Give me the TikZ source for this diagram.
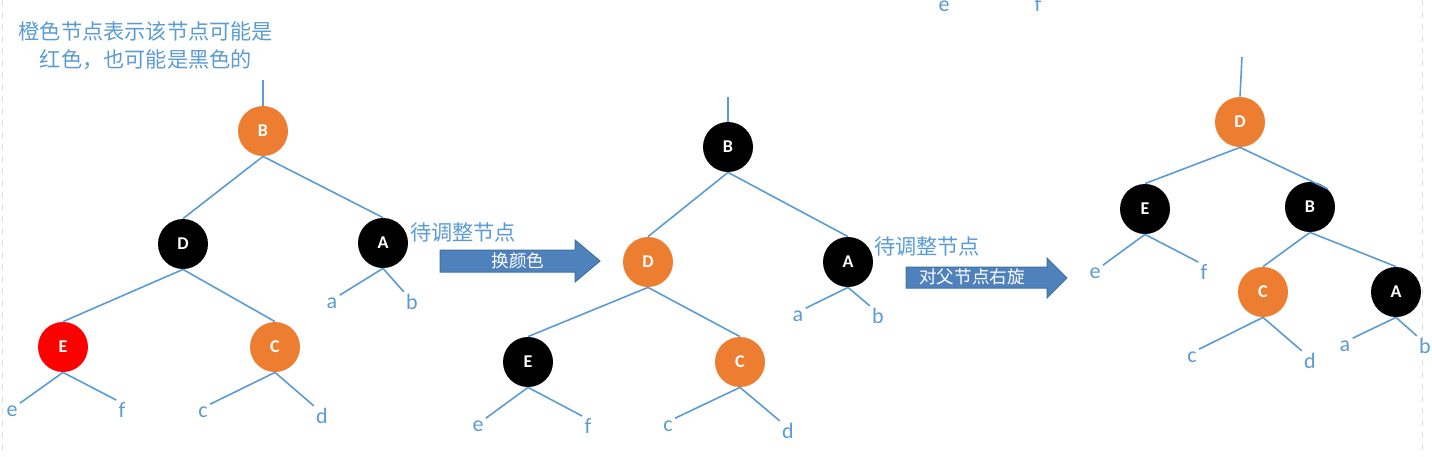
\documentclass[tikz,border=0pt]{standalone}
\usepackage{fontspec}
\setmainfont{Carlito}
\newfontfamily\cjk{Noto Sans CJK SC}
\definecolor{linkblue}{HTML}{5B9BD5}
\definecolor{nodeorange}{HTML}{ED7D31}
\definecolor{arrowfill}{HTML}{4F81BD}
\definecolor{arrowline}{HTML}{41719C}
\tikzset{
  rbnode/.style={circle,minimum size=25pt,inner sep=0pt,text=white,
    font=\bfseries\fontsize{9}{10}\selectfont},
  blacknode/.style={rbnode,fill=black},
  orangenode/.style={rbnode,fill=nodeorange},
  rednode/.style={rbnode,fill=red},
  link/.style={draw=linkblue,line width=0.8pt},
  leaf/.style={text=linkblue,inner sep=1pt,font=\fontsize{11}{13}\selectfont},
  note/.style={text=linkblue,align=center,inner sep=0pt,font=\cjk\fontsize{10.6}{14}\selectfont},
  bigarrow/.style={fill=arrowfill,draw=arrowline,line width=0.5pt},
  arrowtext/.style={text=white,inner sep=0pt,font=\cjk\fontsize{8.8}{10}\selectfont}
}
\begin{document}
\begin{tikzpicture}[x=0.5pt,y=-0.5pt]
  \useasboundingbox (0,0) rectangle (1432,456);
  %% Frame
  \draw[gray!25,dashed] (2,0) -- (2,456);
  \draw[gray!25,dashed] (1422,0) -- (1422,456);
  %% Note
  \node[note] (hint) at (146,46) {橙色节点表示该节点可能是\\红色，也可能是黑色的};
  %% Tree 1
  \coordinate (top1) at (263,80);
  \node[orangenode] (b1) at (263,131) {B};
  \node[blacknode] (d1) at (183,244) {D};
  \node[blacknode] (a1) at (383,243) {A};
  \node[rednode] (e1) at (63,347) {E};
  \node[orangenode] (c1) at (275,347) {C};
  \node[leaf] (la1) at (332,303) {a};
  \node[leaf] (lb1) at (412,302) {b};
  \node[leaf] (le1) at (12,411) {e};
  \node[leaf] (lf1) at (122,410) {f};
  \node[leaf] (lc1) at (203,412) {c};
  \node[leaf] (ld1) at (322,416) {d};
  \draw[link] (top1) -- (b1.north);
  \draw[link] (b1.south) -- (d1.north);
  \draw[link] (b1.south) -- (a1.north);
  \draw[link] (d1.south) -- (e1.north);
  \draw[link] (d1.south) -- (c1.north);
  \draw[link] (a1.south) -- (la1.north east);
  \draw[link] (a1.south) -- (lb1.north west);
  \draw[link] (e1.south) -- (le1.north east);
  \draw[link] (e1.south) -- (lf1.north west);
  \draw[link] (c1.south) -- (lc1.north east);
  \draw[link] (c1.south) -- (ld1.north west);
  \node[note] (todo1) at (463,232) {待调整节点};
  %% Arrow 1
  \draw[bigarrow] (440,250) -- (575,250) -- (575,240) -- (600,261)
    -- (575,282) -- (575,272) -- (440,272) -- cycle;
  \node[arrowtext] (recolor) at (518,261) {换颜色};
  %% Tree 2
  \coordinate (top2) at (728,97);
  \node[blacknode] (b2) at (728,147) {B};
  \node[orangenode] (d2) at (648,262) {D};
  \node[blacknode] (a2) at (848,262) {A};
  \node[blacknode] (e2) at (528,362) {E};
  \node[orangenode] (c2) at (740,362) {C};
  \node[leaf] (la2) at (798,316) {a};
  \node[leaf] (lb2) at (878,316) {b};
  \node[leaf] (le2) at (478,426) {e};
  \node[leaf] (lf2) at (588,426) {f};
  \node[leaf] (lc2) at (668,426) {c};
  \node[leaf] (ld2) at (788,431) {d};
  \draw[link] (top2) -- (b2.north);
  \draw[link] (b2.south) -- (d2.north);
  \draw[link] (b2.south) -- (a2.north);
  \draw[link] (d2.south) -- (e2.north);
  \draw[link] (d2.south) -- (c2.north);
  \draw[link] (a2.south) -- (la2.north east);
  \draw[link] (a2.south) -- (lb2.north west);
  \draw[link] (e2.south) -- (le2.north east);
  \draw[link] (e2.south) -- (lf2.north west);
  \draw[link] (c2.south) -- (lc2.north east);
  \draw[link] (c2.south) -- (ld2.north west);
  \node[note] (todo2) at (927,246) {待调整节点};
  %% Arrow 2
  \draw[bigarrow] (906,267) -- (1047,267) -- (1047,258) -- (1067,278)
    -- (1047,298) -- (1047,288) -- (906,288) -- cycle;
  \node[arrowtext] (rotate) at (972,277) {对父节点右旋};
  %% Tree 3
  \node[leaf] (oe) at (944,6) {e};
  \node[leaf] (of) at (1038,4) {f};
  \coordinate (top3) at (1242,57);
  \node[orangenode] (d3) at (1240,122) {D};
  \node[blacknode] (e3) at (1145,209) {E};
  \node[blacknode] (b3) at (1310,207) {B};
  \node[orangenode] (c3) at (1263,292) {C};
  \node[blacknode] (a3) at (1396,292) {A};
  \node[leaf] (le3) at (1095,273) {e};
  \node[leaf] (lf3) at (1204,272) {f};
  \node[leaf] (lc3) at (1192,357) {c};
  \node[leaf] (ld3) at (1310,361) {d};
  \node[leaf] (la3) at (1345,346) {a};
  \node[leaf] (lb3) at (1425,346) {b};
  \draw[link] (top3) -- (d3.north);
  \draw[link] (d3.south) -- (e3.north);
  \draw[link] (d3.south) -- (b3.45);
  \draw[link] (b3.south) -- (c3.north);
  \draw[link] (b3.south) -- (a3.north);
  \draw[link] (e3.south) -- (le3.north east);
  \draw[link] (e3.south) -- (lf3.north west);
  \draw[link] (c3.south) -- (lc3.north east);
  \draw[link] (c3.south) -- (ld3.north west);
  \draw[link] (a3.south) -- (la3.north east);
  \draw[link] (a3.south) -- (lb3.north west);
\end{tikzpicture}
\end{document}
